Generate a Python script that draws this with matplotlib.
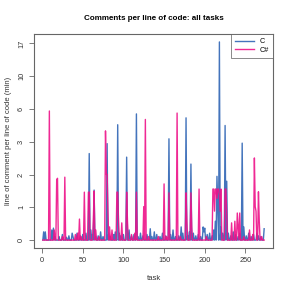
import numpy as np
import matplotlib
matplotlib.use("Agg")
import matplotlib.pyplot as plt

plt.rcParams['font.family'] = ['Liberation Sans', 'DejaVu Sans']

# comments per line of code, one value per task (1..273)
c_vals = [
    0, 0.12, 0, 0.12, 0, 0, 0, 0, 0, 0, 0, 0.15, 0, 0.18, 0, 0.05, 0, 0, 0, 0,
    0.05, 0, 0, 0, 0.08, 0, 0, 0, 0, 0.04, 0, 0, 0.06, 0, 0, 0, 0.1, 0.05, 0, 0,
    0, 0, 0.1, 0, 0, 0, 0.06, 0, 0, 0.08, 0, 0, 0, 0.1, 0, 0, 0, 2.47, 0, 0.15,
    0, 0.08, 0, 1.03, 0, 0.05, 0, 0, 0.06, 0, 0, 0.12, 0, 0, 0.05, 0, 0, 0, 0, 3.02,
    0, 0.1, 0, 0.05, 0, 0, 0, 0.08, 0, 0.12, 0, 0, 4.33, 0, 0.1, 0, 0.06, 0, 0, 0.08,
    0, 0, 0, 2.29, 0, 0, 0.15, 0, 0, 0.06, 0, 0, 0.08, 0, 0, 5.27, 0, 0.05, 0, 0,
    0.1, 0, 0, 0.06, 0, 0, 0, 0, 0.08, 0, 0, 0, 0.17, 0, 0.05, 0, 0, 0.12, 0, 0,
    0.08, 0, 0, 0, 0.05, 0, 0, 0.1, 0, 0, 0, 0.06, 0, 0, 0, 3.32, 0, 0.08, 0, 0,
    0.15, 0, 0, 0.05, 0, 0, 0, 0.06, 0, 0, 0.2, 0, 0.1, 0, 0, 0, 4.91, 0, 0.06, 0,
    0.12, 0, 1.97, 0, 0, 0.1, 0, 0, 0.06, 0, 0, 0.08, 0, 0, 0.05, 0, 0, 0.2, 0.12, 0.18,
    0, 0, 0.08, 0, 0, 0.1, 0, 0, 0.06, 0, 0.15, 0, 0.3, 0, 1.48, 0.6, 0, 17.6, 0, 0.2,
    0, 0.1, 0, 0, 4.27, 0, 1.31, 0, 0.1, 0, 0, 0.06, 0, 0, 0.12, 0, 0, 0.08, 0, 0,
    0.05, 0, 0.1, 0, 0, 3.05, 0, 0.2, 0, 0, 0.06, 0, 0, 0.1, 0, 0, 0.05, 0, 0, 0.08,
    0, 0, 0, 0.1, 0, 0.06, 0, 0, 0.05, 0, 0, 0, 0.17,
]

cs_vals = [
    0, 0, 0, 0, 0, 0, 0, 0, 5.55, 0, 0, 0, 0, 0, 0.15, 0, 0, 1.35, 1.41, 0,
    0, 0, 0, 0, 0.05, 0, 0, 1.45, 0, 0, 0, 0, 0, 0, 0, 0, 0, 0, 0, 0,
    0.08, 0, 0, 0.1, 0, 0.34, 0, 0.05, 0, 0, 0, 0.97, 0, 0, 0, 0, 0.97, 0.97, 0, 0,
    0, 0, 0.3, 1.0, 0, 0.15, 0, 0, 0, 0.05, 0, 0, 0, 0, 0, 0, 0, 3.86, 1.55, 1.55,
    0.5, 0, 0.2, 0, 0, 0.15, 0, 0, 0, 0, 0, 0.97, 0.97, 0.3, 0, 0, 0, 0.27, 0, 0,
    0, 0, 0, 0.97, 0.3, 0, 0, 0, 0, 0.08, 0, 0, 0, 0.1, 0, 0.97, 0, 0, 0, 0,
    0, 0, 0, 0, 0.6, 0, 4.77, 0, 0, 0, 0.05, 0, 0, 0, 0, 0, 0, 0, 0, 0,
    0, 0, 0.05, 0, 0, 0, 0, 0, 0, 1.22, 0, 0, 0.05, 0, 0, 0.95, 0, 0, 0, 0,
    0, 0, 0, 0, 0, 5.35, 0, 0, 0, 0.05, 0, 0, 0, 0, 0, 0, 0.95, 0.3, 0, 0,
    0, 0, 0.95, 0.2, 0, 0, 0, 0, 0, 0, 0, 0, 1.06, 0, 0, 0, 0, 0, 0, 0,
    0, 0.05, 0, 0, 0, 0, 0, 0, 0, 1.06, 1.06, 0.5, 1.06, 1.06, 0.8, 1.06, 1.06, 0.9, 0.5, 1.06,
    0, 0, 0, 0, 1.06, 1.06, 0.4, 0, 0, 0, 0, 0, 0.27, 0, 0, 0, 0.3, 0, 0, 0.46,
    0.2, 0, 0.46, 0, 0, 0, 0, 0.05, 0, 0, 0, 0, 0, 0, 0.15, 0, 0, 0, 0.08, 0,
    2.25, 0.6, 0.5, 0, 0, 0.98, 0.3, 0, 0, 0.05, 0, 0, 0,
]

tasks = np.arange(1, len(c_vals) + 1)
ytick_labels = ['0', '1', '2', '3', '6', '10', '17']


# compressed y scale: ticks evenly spaced
def fwd(y):
    return 2 * np.log1p(np.asarray(y) / 0.9)


def inv(t):
    return 0.9 * np.expm1(np.asarray(t) / 2)


fig = plt.figure(figsize=(2.91, 2.91), dpi=100)
ax = fig.add_axes([34 / 291, 43 / 291, 239 / 291, 214 / 291])

ax.plot(tasks, c_vals, color='#2f65b5', lw=1.0, alpha=0.9, label='C')
ax.plot(tasks, cs_vals, color='#ee1289', lw=1.0, alpha=0.9, label='C#')

ax.set_yscale('function', functions=(fwd, inv))
tmax = float(fwd(max(max(c_vals), max(cs_vals))))
ax.set_ylim(inv(-0.04 * tmax), inv(1.04 * tmax))
pad = 0.04 * (tasks[-1] - tasks[0])
ax.set_xlim(tasks[0] - pad, tasks[-1] + pad)

ax.set_yticks(inv(np.arange(len(ytick_labels))))
ax.set_yticklabels(ytick_labels, rotation=90, va='center')
ax.set_xticks([0, 50, 100, 150, 200, 250])
ax.minorticks_off()

for s in ax.spines.values():
    s.set_color('#666666')
    s.set_linewidth(0.8)
ax.tick_params(length=3.5, width=0.6, color='#666666', labelsize=5.3, labelcolor='#333333', pad=3)

ax.set_xlabel('task', fontsize=5.5, color='#333333', labelpad=8)
ax.set_ylabel('line of comment per line of code (min)', fontsize=5.5, color='#333333', labelpad=4)
ax.set_title('Comments per line of code: all tasks', fontsize=5.8, fontweight='bold', pad=10)

leg = ax.legend(loc='upper right', fontsize=5.2, frameon=True, fancybox=False,
                borderaxespad=0, handlelength=2.6, borderpad=0.6, labelspacing=0.2,
                handletextpad=0.8)
leg.get_frame().set_edgecolor('#555555')
leg.get_frame().set_linewidth(0.6)

fig.savefig('out.png', dpi=100)
